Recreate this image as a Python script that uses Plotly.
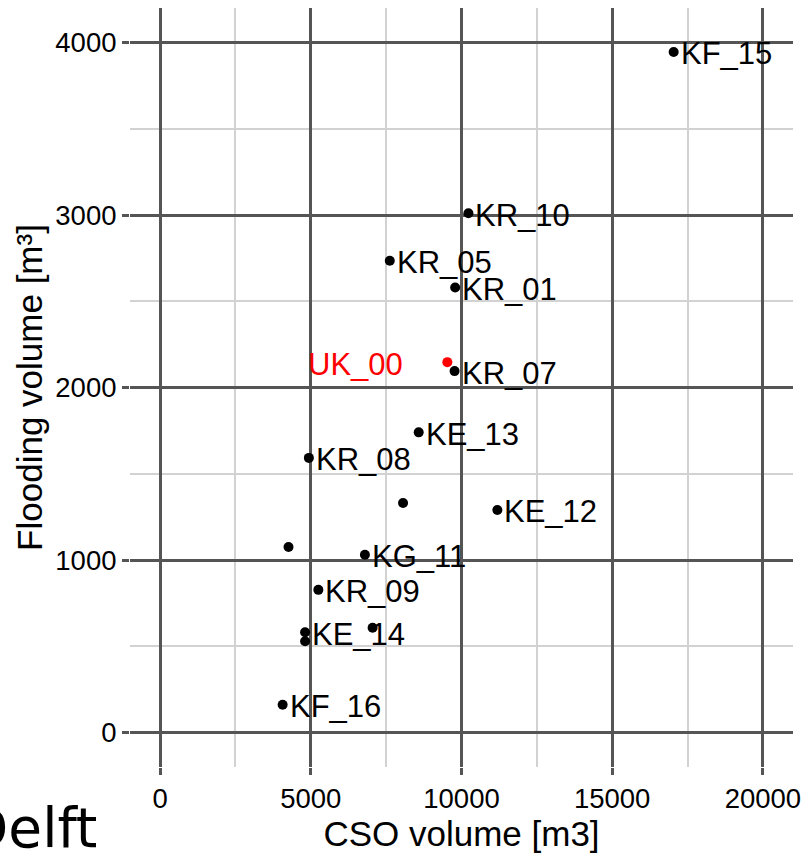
import plotly.graph_objects as go

# Data (CSO volume [m3], Flooding volume [m3])
names = ["KF_15", "KR_10", "KR_05", "KR_01", "KR_07", "KE_13", "KR_08", "", "KE_12",
         "", "KG_11", "KR_09", "", "KE_14", "", "KF_16"]
cso = [17040, 10230, 7620, 9790, 9770, 8580, 4935, 8060, 11190,
       4260, 6795, 5250, 7050, 4810, 4810, 4065]
flood = [3945, 3010, 2735, 2580, 2095, 1740, 1592, 1330, 1290,
         1075, 1030, 827, 607, 581, 529, 161]

ref_name = ["UK_00"]
ref_cso = [9530]
ref_flood = [2147]

x_ticks = [0, 5000, 10000, 15000, 20000]
y_ticks = [0, 1000, 2000, 3000, 4000]

FONT = "Liberation Sans, Arial, sans-serif"
MAJOR = "#555555"
MINOR = "#d2d2d2"

fig = go.Figure()
fig.add_trace(go.Scatter(x=ref_cso, y=ref_flood, mode="markers",
                         marker=dict(color="#ff0000", size=10), showlegend=False))
fig.add_trace(go.Scatter(x=cso, y=flood, mode="markers",
                         marker=dict(color="black", size=10), showlegend=False))

for n, xv, yv in zip(names, cso, flood):
    if n:
        fig.add_annotation(x=xv, y=yv, text=n, showarrow=False, xanchor="left",
                           yanchor="middle", xshift=5, yshift=-2,
                           font=dict(family=FONT, size=31, color="black"))
for n, xv, yv in zip(ref_name, ref_cso, ref_flood):
    fig.add_annotation(x=xv, y=yv, text=n, showarrow=False, xanchor="right",
                       yanchor="middle", xshift=-42, yshift=-2,
                       font=dict(family=FONT, size=31, color="#ff0000"))

fig.add_annotation(xref="paper", yref="paper", x=-0.251, y=-0.125, text="Delft",
                   showarrow=False, xanchor="left", yanchor="bottom",
                   font=dict(family="DejaVu Sans", size=55, color="black"))

axis_common = dict(showline=False, zeroline=False, showgrid=True, automargin=False,
                   gridcolor=MAJOR, gridwidth=2.5,
                   ticks="outside", ticklen=7, tickwidth=2.5, tickcolor=MAJOR,
                   ticklabeloverflow="allow",
                   tickfont=dict(family=FONT, size=27.5, color="black"))

fig.update_xaxes(range=[-1000, 21000], tickvals=x_ticks,
                 ticktext=[str(v) for v in x_ticks],
                 minor=dict(dtick=2500, tick0=0, showgrid=True, gridcolor=MINOR, gridwidth=1.5),
                 title=dict(text="CSO volume [m3]", font=dict(family=FONT, size=35, color="black"),
                            standoff=4),
                 **axis_common)
fig.update_yaxes(range=[-200, 4200], tickvals=y_ticks,
                 ticktext=[str(v) for v in y_ticks],
                 minor=dict(dtick=500, tick0=0, showgrid=True, gridcolor=MINOR, gridwidth=1.5),
                 title=dict(text="Flooding volume [m³]", font=dict(family=FONT, size=35, color="black"),
                            standoff=2),
                 **axis_common)

fig.update_layout(width=802, height=853, margin=dict(l=130, r=9, t=8, b=86),
                  paper_bgcolor="white", plot_bgcolor="white")

fig.write_html("out.html", config={"displayModeBar": False},
               post_script="document.body.style.margin='0px';")
